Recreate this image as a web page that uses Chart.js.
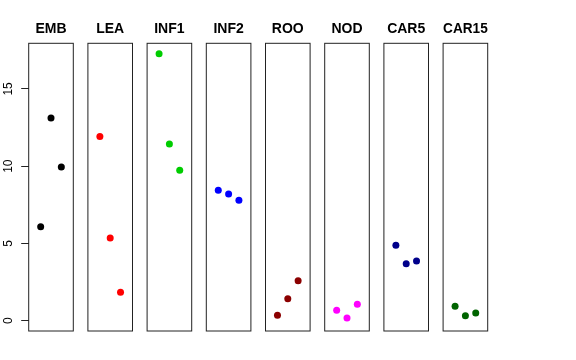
<!DOCTYPE html>
<html>
<head>
<meta charset="utf-8">
<script src="https://cdn.jsdelivr.net/npm/chart.js@4.4.1/dist/chart.umd.min.js"></script>
<style>
  html, body { margin: 0; padding: 0; background: #fff; }
  #wrap { position: relative; width: 576px; height: 360px; }
  #wrap canvas { position: absolute; left: 0; top: 0; }
</style>
</head>
<body>
<div id="wrap"></div>
<script>
// tissues, one panel each
const tissues = ['EMB', 'LEA', 'INF1', 'INF2', 'ROO', 'NOD', 'CAR5', 'CAR15'];
const replicate = [1, 2, 3];

// values (replicates 1..3)
const EMB   = [6.08, 13.12, 9.95];
const LEA   = [11.91, 5.35, 1.84];
const INF1  = [17.28, 11.44, 9.73];
const INF2  = [8.44, 8.20, 7.79];
const ROO   = [0.35, 1.42, 2.59];
const NOD   = [0.67, 0.17, 1.06];
const CAR5  = [4.88, 3.69, 3.86];
const CAR15 = [0.93, 0.32, 0.50];
const series = [EMB, LEA, INF1, INF2, ROO, NOD, CAR5, CAR15];

const colors = ['#000000', '#FF0000', '#00CD00', '#0000FF', '#8B0000', '#FF00FF', '#00008B', '#006400'];
const yTicks = [0, 5, 10, 15];
const xLimits = [-0.16, 4.16];
const yLimits = [-0.67, 17.95];

// panel geometry (page pixels)
const W = 576, H = 360;
const firstLeft = 28.7, step = 59.2, panelW = 44.6;
const panelTop = 43.3, panelBottom = 331;

const boxPlugin = {
  id: 'panelBox',
  afterDraw(chart) {
    const { ctx, chartArea: a } = chart;
    ctx.save();
    ctx.strokeStyle = '#222';
    ctx.lineWidth = 1;
    ctx.strokeRect(a.left, a.top, a.right - a.left, a.bottom - a.top);
    ctx.restore();
  }
};

const wrap = document.getElementById('wrap');

tissues.forEach((name, i) => {
  const canvas = document.createElement('canvas');
  canvas.width = W;
  canvas.height = H;
  wrap.appendChild(canvas);

  const withAxis = i === 0;
  const left = firstLeft + i * step;

  new Chart(canvas.getContext('2d'), {
    type: 'scatter',
    data: {
      datasets: [{
        label: name,
        data: replicate.map((r, k) => ({ x: r, y: series[i][k] })),
        pointRadius: 3.5,
        pointHoverRadius: 3.5,
        pointBorderWidth: 0,
        pointBackgroundColor: colors[i],
        pointBorderColor: colors[i]
      }]
    },
    options: {
      responsive: false,
      animation: false,
      events: [],
      layout: {
        padding: {
          left: withAxis ? 0 : left,
          right: W - left - panelW,
          top: 22.3,
          bottom: H - panelBottom
        }
      },
      plugins: {
        legend: { display: false },
        tooltip: { enabled: false },
        title: {
          display: true,
          text: name,
          fullSize: false,
          color: '#000',
          font: { family: 'Liberation Sans', size: 14, weight: 'bold', lineHeight: 1 },
          padding: { top: 0, bottom: panelTop - 22.3 - 14 }
        }
      },
      scales: {
        x: {
          type: 'linear',
          display: false,
          min: xLimits[0],
          max: xLimits[1]
        },
        y: {
          type: 'linear',
          display: withAxis,
          min: yLimits[0],
          max: yLimits[1],
          afterBuildTicks: (scale) => { scale.ticks = yTicks.map(v => ({ value: v })); },
          afterFit: (scale) => { if (withAxis) scale.width = firstLeft; },
          border: { display: false },
          grid: {
            display: true,
            drawOnChartArea: false,
            drawTicks: true,
            tickLength: 7.5,
            color: '#222'
          },
          ticks: {
            minRotation: 90,
            maxRotation: 90,
            crossAlign: 'center',
            padding: 6.2,
            color: '#000',
            font: { family: 'Liberation Sans', size: 12 }
          }
        }
      }
    },
    plugins: [boxPlugin]
  });
});
</script>
</body>
</html>
